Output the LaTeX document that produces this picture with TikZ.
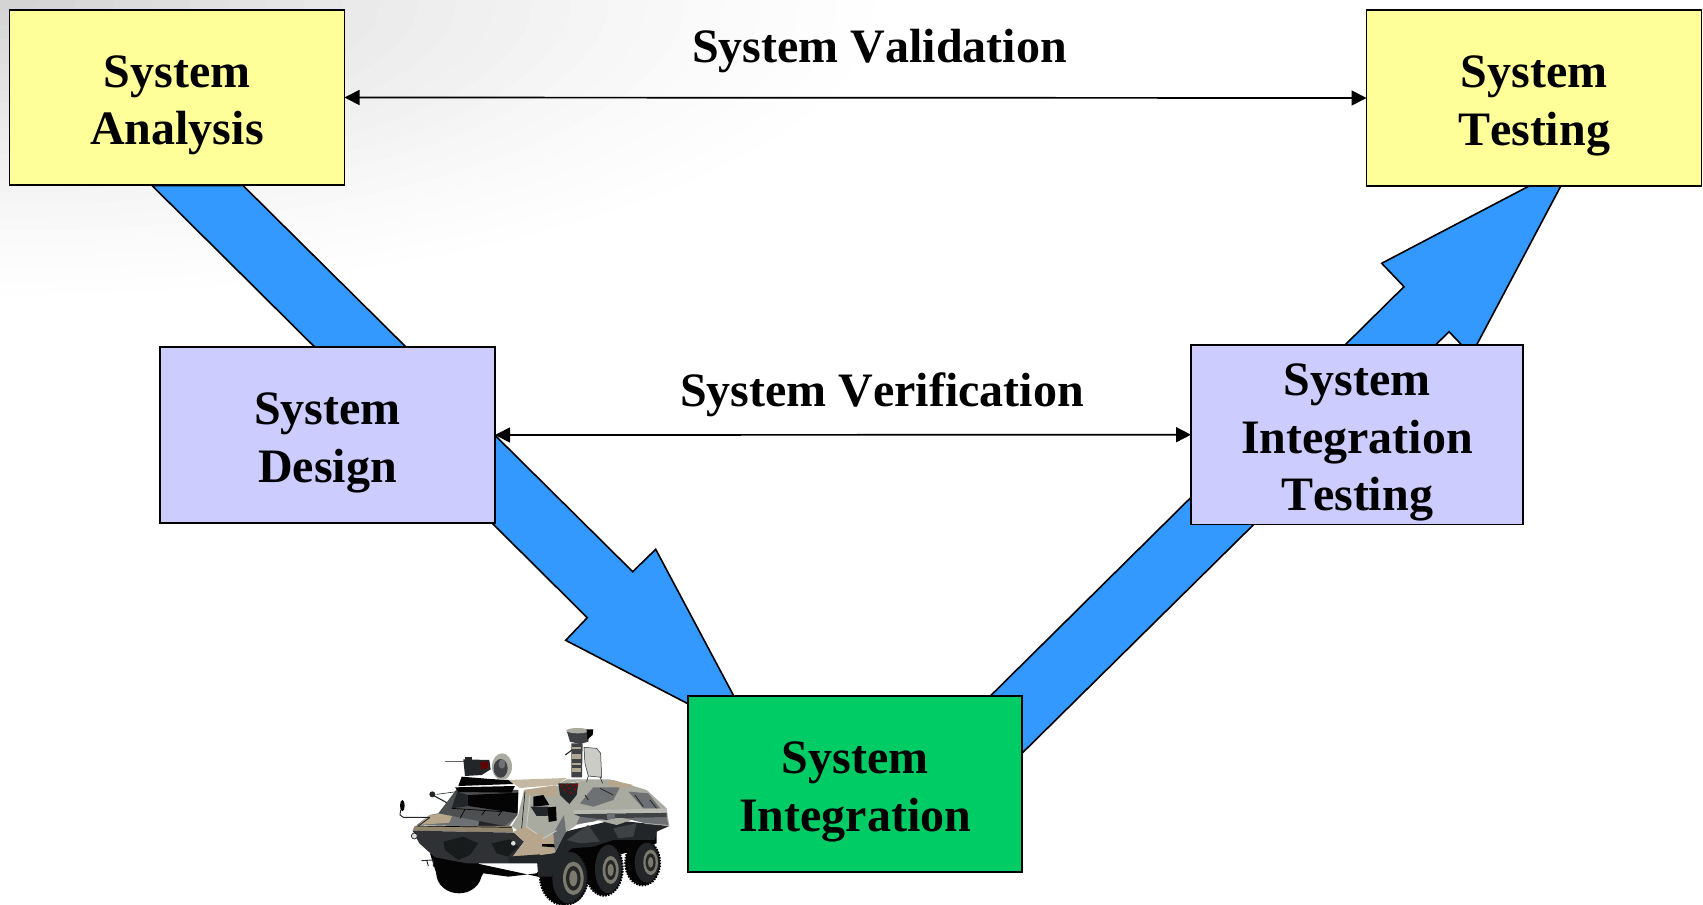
\documentclass[tikz,border=0pt]{standalone}
\usepackage{fontspec}
\setmainfont{Liberation Serif}[Kerning=Off]
\usetikzlibrary{arrows.meta}
\definecolor{vtan}{HTML}{B7A68B}
\definecolor{vlight}{HTML}{A9AAA0}
\definecolor{vmid}{HTML}{6E7173}
\definecolor{vdark}{HTML}{232628}
\definecolor{vblack}{HTML}{040404}
\definecolor{vhub}{HTML}{7A7A6E}
\definecolor{vplate}{HTML}{2F3134}
\definecolor{vhull}{HTML}{3F4244}
\definecolor{boxyellow}{HTML}{FFFF99}
\definecolor{boxpurple}{HTML}{CCCCFF}
\definecolor{boxgreen}{HTML}{00CC66}
\definecolor{arrowblue}{HTML}{3399FF}
\newcommand\lift{\rule{0pt}{47.6pt}}
\tikzset{
  boxbase/.style={draw=black,line width=1.8pt,inner sep=0pt,outer sep=0pt,minimum width=335pt,minimum height=175.5pt,align=center,font=\fontsize{48}{57.6}\selectfont\bfseries,text=black},
  yellowbox/.style={boxbase,fill=boxyellow},
  purplebox/.style={boxbase,fill=boxpurple},
  greenbox/.style={boxbase,fill=boxgreen},
  blockarrow/.style={draw=black,line width=1.6pt,fill=arrowblue,line join=miter},
  lbl/.style={inner sep=0pt,font=\fontsize{48}{57.6}\selectfont\bfseries,text=black},
  dbl/.style={draw=black,line width=1.7pt,{Triangle[width=15pt,length=15pt]}-{Triangle[width=15pt,length=15pt]}},
  lugs/.style={draw=vblack,line width=2.2pt,dash pattern=on 1.6pt off 1.2pt}
}
\begin{document}
\begin{tikzpicture}[x=1pt,y=-1pt]
\useasboundingbox (0,0) rectangle (1703,905);
\begin{scope}
\clip (0,0) rectangle (1703,905);
\fill[white] (0,0) rectangle (1703,905);
\foreach \r in {1,0.96,...,0.02}{
  \pgfmathsetmacro\pv{18*(1-\r)^1.5}
  \fill[black!\pv!white] (0,0) ellipse [x radius={950*\r},y radius={320*\r}];
}
\end{scope}
% block arrows
\draw[blockarrow] (152,185.5) -- (243,185.5) -- (632.7,571.7) -- (655.7,549.3) -- (757,739.6) -- (565.7,640.3) -- (587.3,617.7) -- cycle;
\draw[blockarrow] (960,726) -- (1345.7,344.3) -- (1404,286.7) -- (1381.7,263.3) -- (1573,163) -- (1471.3,355) -- (1449,331.7) -- (1000,775) -- cycle;
% boxes
\node[yellowbox] (sa) at (177,97.5) {\lift System\\Analysis};
\node[yellowbox] (st) at (1534,98) {\lift System\\Testing};
\node[purplebox] (sd) at (327.5,435) {\lift System\\Design};
\node[purplebox,minimum width=332pt,minimum height=179.5pt] (sit) at (1357,434.7) {\lift System\\Integration\\Testing};
\node[greenbox,minimum width=334pt] (si) at (855.2,784) {\lift System\\Integration};
% labels
\node[lbl] (val) at (879.5,50.8) {System Validation};
\node[lbl] (ver) at (882,394.5) {System Verification};
% connectors
\draw[dbl] (sa.east) -- (st.west);
\draw[dbl] (sd.east) -- (sit.west);
% vehicle
\begin{scope}[shift={(380,700)},x=.3333pt,y=-.3333pt]
% underside and far wheel
\fill[vblack] (150,460) -- (175,540) -- (200,570) -- (250,578) -- (295,545) -- (310,520) -- (385,530) -- (470,520) -- (500,480) -- (560,420) -- (830,390) -- (830,430) -- (700,470) -- (520,540) -- cycle;
\fill[vblack] (237,520) ellipse [x radius=68,y radius=60];
% rear wheel
\fill[vblack] (788,488) ellipse [x radius=52,y radius=68];
\fill[vdark] (802,488) ellipse [x radius=38,y radius=60];
\path[lugs] (788,488) ellipse [x radius=52,y radius=68];
\fill[vhub] (812,487) ellipse [x radius=22,y radius=38];
\fill[black!85] (812,487) ellipse [x radius=15,y radius=27];
\fill[vhub] (812,487) ellipse [x radius=8,y radius=16];
% middle wheel
\fill[vblack] (672,505) ellipse [x radius=56,y radius=82];
\fill[vdark] (686,507) ellipse [x radius=41,y radius=73];
\path[lugs] (672,505) ellipse [x radius=56,y radius=82];
\fill[vhub] (692,510) ellipse [x radius=24,y radius=42];
\fill[black!85] (692,510) ellipse [x radius=16,y radius=30];
\fill[vhub] (692,510) ellipse [x radius=9,y radius=19];
% front wheel
\fill[vblack] (552,530) ellipse [x radius=72,y radius=85];
\fill[vdark] (570,534) ellipse [x radius=53,y radius=78];
\path[lugs] (552,530) ellipse [x radius=72,y radius=85];
\fill[vhub] (580,535) ellipse [x radius=31,y radius=50];
\fill[black!85] (580,535) ellipse [x radius=22,y radius=37];
\fill[vhub] (580,535) ellipse [x radius=12,y radius=24];
% wheel arch / lower hull
\fill[vdark] (470,470) -- (475,530) -- (515,530) -- (530,490) -- (575,445) -- (640,440) -- (700,420) -- (760,420) -- (825,420) -- (830,395) -- (868,378) -- (700,360) -- (555,395) -- cycle;
\fill[vhull] (560,420) -- (625,375) -- (660,425) -- (600,430) -- cycle;
\fill[vhull] (700,385) -- (770,370) -- (760,410) -- (715,415) -- cycle;
% side plate
\fill[vlight] (528,258) -- (620,240) -- (700,240) -- (800,270) -- (860,325) -- (868,378) -- (800,372) -- (760,358) -- (710,375) -- (650,360) -- (590,375) -- (555,398) -- (535,360) -- cycle;
\fill[vmid] (640,262) -- (720,262) -- (700,300) -- (640,320) -- (600,310) -- cycle;
\fill[vmid] (745,275) -- (805,280) -- (840,325) -- (790,325) -- cycle;
\fill[vtan] (690,240) -- (760,255) -- (735,265) -- (680,255) -- cycle;
\fill[vmid] (600,350) -- (680,352) -- (640,365) -- (590,372) -- cycle;
\fill[vmid] (720,352) -- (860,352) -- (865,375) -- (790,368) -- cycle;
\draw[vdark,line width=.8pt] (660,265) -- (700,285) (765,285) -- (790,320) (810,300) -- (830,325) (615,285) -- (625,300);
% front side panel
\fill[vlight] (395,378) -- (415,345) -- (432,270) -- (528,256) -- (555,398) -- (525,458) -- (480,465) -- (425,400) -- cycle;
\fill[vtan] (435,270) -- (528,256) -- (533,290) -- (500,290) -- (470,280) -- (445,290) -- cycle;
\fill[vtan] (400,395) -- (440,378) -- (495,418) -- (522,398) -- (545,400) -- (520,460) -- (480,465) -- (400,470) -- (435,425) -- cycle;
\fill[vmid] (520,400) -- (552,345) -- (558,395) -- (525,455) -- cycle;
\draw[vlight!60!white,line width=.9pt] (450,285) -- (440,380) -- (490,415) -- (530,392);
\draw[vdark,line width=.7pt] (435,275) -- (425,385);
\fill[vblack] (460,290) -- (490,285) -- (508,315) -- (460,320) -- cycle;
\fill[vdark] (452,320) -- (505,320) -- (503,348) -- (470,348) -- cycle;
\fill[vblack] (503,322) -- (528,320) -- (530,362) -- (506,366) -- cycle;
\fill[vblack] (468,433) -- (522,432) -- (525,442) -- (470,438) -- cycle;
% rail
\fill[vhull] (582,342) -- (860,338) -- (860,352) -- (705,354) -- (680,360) -- (600,350) -- cycle;
\fill[vlight!80!white] (580,331) -- (860,326) -- (860,338) -- (582,342) -- cycle;
\fill[vmid] (680,340) -- (705,340) -- (705,358) -- (680,358) -- cycle;
% roof
\fill[vtan!80!white] (385,240) -- (560,234) -- (530,255) -- (420,264) -- cycle;
\fill[vlight] (530,255) -- (560,238) -- (690,238) -- (700,242) -- (620,240) -- cycle;
% stud panel
\fill[vdark] (535,250) -- (595,250) -- (590,285) -- (568,312) -- (540,285) -- cycle;
\foreach \px/\py in {545/258,562/254,580/256,590/254,553/270,572/278,585/268,568/265}{\fill[red!60!black] (\px,\py) circle (1.4pt);}
% front deck
\fill[vmid] (150,345) -- (175,340) -- (410,348) -- (385,382) -- (110,375) -- cycle;
\fill[vtan] (148,345) -- (220,338) -- (208,368) -- (115,375) -- cycle;
\fill[vdark] (300,350) -- (385,352) -- (372,382) -- (295,378) -- cycle;
% strip
\fill[vtan!80!black] (104,378) -- (396,378) -- (400,398) -- (98,392) -- cycle;
\draw[vblack,line width=.7pt] (110,378) -- (395,382);
% front plate
\fill[vplate] (98,392) -- (402,398) -- (432,425) -- (398,470) -- (385,490) -- (260,490) -- (165,472) -- (118,430) -- cycle;
\fill[vdark!70!black] (190,425) -- (250,410) -- (295,430) -- (270,465) -- (235,480) -- (195,450) -- cycle;
\fill[vdark!70!black] (335,430) -- (390,418) -- (415,440) -- (385,470) -- (350,460) -- cycle;
\fill[vtan] (402,398) -- (490,402) -- (482,465) -- (400,470) -- (432,425) -- cycle;
\fill[vdark] (385,470) -- (480,463) -- (470,490) -- (385,490) -- cycle;
\draw[vdark,line width=.9pt] (125,482) -- (160,480) (140,480) -- (145,498) (160,480) -- (160,500);
\fill[vlight!40!white] (103,408) circle (3pt);
\draw[vdark,line width=.7pt] (103,408) circle (3pt);
\fill[vlight!40!white] (400,430) circle (2.3pt);
% windshield
\fill[vmid!70!black] (232,265) -- (415,270) -- (413,345) -- (375,378) -- (175,340) -- cycle;
\fill[vblack] (262,285) -- (415,278) -- (412,340) -- (265,318) -- cycle;
\fill[vdark] (232,275) -- (262,285) -- (265,318) -- (215,325) -- cycle;
\draw[vblack,line width=.7pt] (215,325) -- (368,335) (240,355) -- (255,328) (305,345) -- (315,332) (355,347) -- (365,335);
\fill[vblack] (225,262) -- (405,258) -- (395,278) -- (235,276) -- cycle;
% mirror and stalks
\draw[vdark,line width=.9pt] (150,352) -- (70,352) -- (60,345) -- (62,330);
\draw[vdark,line width=.9pt] (115,378) -- (150,352);
\fill[vblack] (67,317) ellipse [x radius=7,y radius=17];
\draw[vdark,line width=1.1pt] (158,285) -- (200,308);
\draw[vdark,line width=.6pt] (170,283) -- (230,275);
\fill[vdark] (157,283) circle (3pt);
% mast
\fill[vhull] (574,232) -- (606,232) -- (608,130) -- (574,130) -- cycle;
\foreach \my/\mh in {140/8,163/14,188/7,205/10}{\fill[vtan!60!vlight] (577,\my) rectangle (603,{\my+\mh});}
\draw[vdark,line width=1.1pt] (556,165) -- (576,150);
\fill[vhull] (560,92) -- (630,92) -- (625,125) -- (600,132) -- (570,125) -- cycle;
\fill[vlight] (593,92) ellipse [x radius=34,y radius=8];
\fill[vblack] (620,88) -- (640,88) -- (638,105) -- (622,118) -- cycle;
% side panel behind mast
\draw[vdark,fill=vlight!60!white,line width=.5pt] (612,142) -- (650,145) -- (662,160) -- (665,232) -- (625,228) -- (615,190) -- cycle;
\draw[vdark,line width=.6pt] (625,228) -- (620,245) (660,230) -- (668,250);
% gun
\draw[black!60,line width=1.1pt] (195,184) -- (260,184);
\fill[vdark] (250,178) -- (328,180) -- (332,208) -- (305,225) -- (255,228) -- cycle;
\fill[vdark] (255,170) -- (275,170) -- (275,180) -- (255,180) -- cycle;
\fill[red!40!black] (302,186) -- (325,185) -- (323,205) -- (303,208) -- cycle;
\fill[vblack] (245,230) -- (330,237) -- (385,240) -- (400,252) -- (235,258) -- cycle;
% searchlight
\fill[vlight] (366,200) ellipse [x radius=30,y radius=40];
\fill[vhull] (362,205) ellipse [x radius=21,y radius=28];
\fill[vmid] (366,192) ellipse [x radius=10,y radius=14];
\end{scope}
\end{tikzpicture}
\end{document}
